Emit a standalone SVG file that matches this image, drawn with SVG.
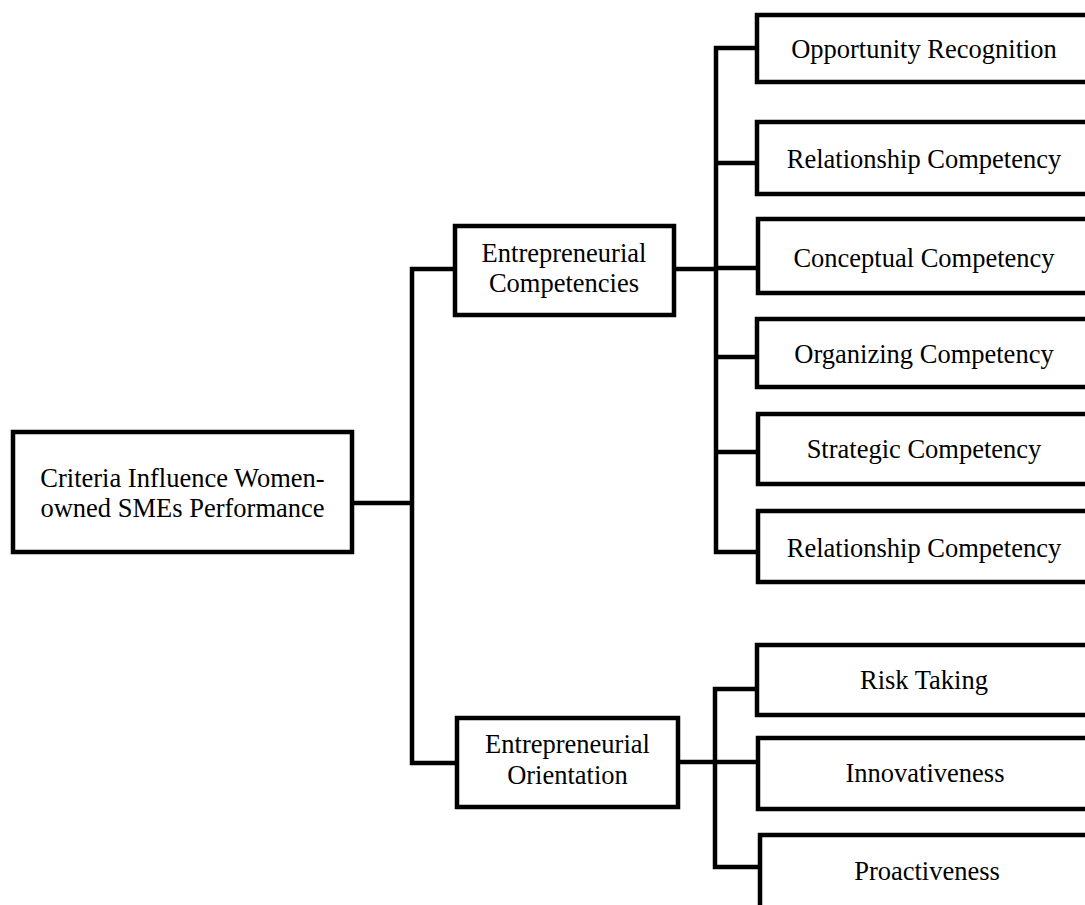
<svg xmlns="http://www.w3.org/2000/svg" width="1085" height="905" viewBox="0 0 1085 905">
<style>
.box{fill:#fff;stroke:#000;stroke-width:4.5;stroke-linejoin:miter}
.ln{fill:none;stroke:#000;stroke-width:4.5;stroke-linecap:square;stroke-linejoin:miter}
text{font-family:"Liberation Serif","Times New Roman",serif;font-size:26.5px;fill:#000;text-anchor:middle}
</style>
<rect width="1085" height="905" fill="#fff"/>
<g id="connectors">
<path class="ln" d="M352 503 H412 M412 269 V763 M412 269 H455 M412 763 H457"/>
<path class="ln" d="M674 269 H716 M716 48 V552 M716 48 H757 M716 163 H757 M716 268 H757 M716 357 H757 M716 452 H757 M716 552 H757"/>
<path class="ln" d="M678 762 H715 M715 689 V867 M715 689 H757 M715 762 H757 M715 867 H759"/>
</g>
<g id="root"><rect class="box" x="13" y="432" width="339" height="120"/><text x="182.5" y="487">Criteria Influence Women-</text><text x="182.5" y="517">owned SMEs Performance</text></g>
<g id="ec"><rect class="box" x="455" y="226" width="219" height="89"/><text x="564" y="262">Entrepreneurial</text><text x="564" y="292">Competencies</text></g>
<g id="eo"><rect class="box" x="457" y="718" width="221" height="89"/><text x="567.5" y="753">Entrepreneurial</text><text x="567.5" y="784">Orientation</text></g>
<g id="opp"><rect class="box" x="757" y="15" width="340" height="67"/><text x="924" y="58">Opportunity Recognition</text></g>
<g id="rel1"><rect class="box" x="757" y="122" width="340" height="72"/><text x="924" y="168">Relationship Competency</text></g>
<g id="con"><rect class="box" x="758" y="219" width="340" height="74"/><text x="924" y="267">Conceptual Competency</text></g>
<g id="org"><rect class="box" x="757" y="319" width="340" height="68"/><text x="924" y="363">Organizing Competency</text></g>
<g id="str"><rect class="box" x="758" y="414" width="340" height="70"/><text x="924" y="458">Strategic Competency</text></g>
<g id="rel2"><rect class="box" x="758" y="511" width="340" height="71"/><text x="924" y="557">Relationship Competency</text></g>
<g id="risk"><rect class="box" x="757" y="645" width="340" height="70"/><text x="924" y="689">Risk Taking</text></g>
<g id="inn"><rect class="box" x="758" y="738" width="340" height="71"/><text x="925" y="782">Innovativeness</text></g>
<g id="pro"><rect class="box" x="760" y="835" width="340" height="80"/><text x="927" y="880">Proactiveness</text></g>
</svg>
